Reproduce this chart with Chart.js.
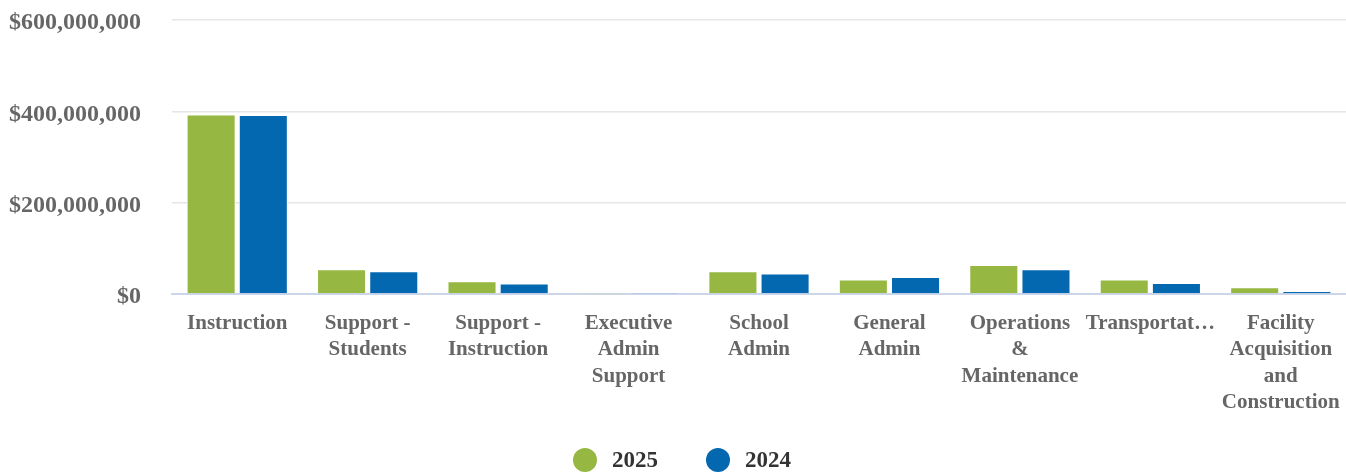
<!DOCTYPE html>
<html>
<head>
<meta charset="utf-8">
<script src="https://cdn.jsdelivr.net/npm/chart.js@4/dist/chart.umd.min.js"></script>
<style>
  html, body { margin: 0; padding: 0; background: #ffffff; }
  #wrap { width: 1346px; height: 472px; position: relative; }
</style>
</head>
<body>
<div id="wrap"><canvas id="chart"></canvas></div>
<script>
// Expenditure by function, two fiscal years
const categories = [
  'Instruction',
  ['Support -', 'Students'],
  ['Support -', 'Instruction'],
  ['Executive', 'Admin', 'Support'],
  ['School', 'Admin'],
  ['General', 'Admin'],
  ['Operations', '&', 'Maintenance'],
  'Transportat…',
  ['Facility', 'Acquisition', 'and', 'Construction']
];
const seriesNames = ['2025', '2024'];
const values2025 = [393000000, 54000000, 28000000, 400000, 50000000, 32000000, 63500000, 32000000, 14700000];
const values2024 = [392000000, 50000000, 23000000, 300000, 45000000, 37000000, 54000000, 24000000, 6500000];
const yTicks = [0, 200000000, 400000000, 600000000];

const GREEN = '#96b741';
const BLUE = '#0468b0';
const FONT = "'Liberation Serif', 'Times New Roman', serif";

const fmtMoney = v => '$' + Math.round(v).toLocaleString('en-US');

// Legend drawn below the axis labels: round markers followed by the series names
const LEGEND = { y: 460, radius: 12, gap: 15, itemGap: 48, shift: 9, font: 'bold 23px ' + FONT, color: '#333333' };
const circleLegend = {
  id: 'circleLegend',
  afterDraw(chart) {
    const ctx = chart.ctx;
    ctx.save();
    ctx.font = LEGEND.font;
    const items = chart.data.datasets.map(ds => ({
      label: ds.label, color: ds.backgroundColor, w: ctx.measureText(ds.label).width
    }));
    const total = items.reduce((s, it) => s + LEGEND.radius * 2 + LEGEND.gap + it.w, 0) + LEGEND.itemGap * (items.length - 1);
    let x = chart.width / 2 - total / 2 + LEGEND.shift;
    ctx.textBaseline = 'middle';
    ctx.textAlign = 'left';
    items.forEach(it => {
      ctx.beginPath();
      ctx.arc(x + LEGEND.radius, LEGEND.y, LEGEND.radius, 0, Math.PI * 2);
      ctx.fillStyle = it.color;
      ctx.fill();
      x += LEGEND.radius * 2 + LEGEND.gap;
      ctx.fillStyle = LEGEND.color;
      ctx.fillText(it.label, x, LEGEND.y + 1);
      x += it.w + LEGEND.itemGap;
    });
    ctx.restore();
  }
};

new Chart(document.getElementById('chart'), {
  type: 'bar',
  data: {
    labels: categories,
    datasets: [
      { label: seriesNames[0], data: values2025, backgroundColor: GREEN, borderColor: '#ffffff', borderWidth: 1 },
      { label: seriesNames[1], data: values2024, backgroundColor: BLUE, borderColor: '#ffffff', borderWidth: 1 }
    ]
  },
  plugins: [circleLegend],
  options: {
    responsive: true,
    maintainAspectRatio: false,
    animation: false,
    layout: { padding: { top: 20, right: 0, left: 0, bottom: 0 } },
    datasets: { bar: { categoryPercentage: 0.8, barPercentage: 0.94 } },
    scales: {
      x: {
        grid: { display: false, drawTicks: false },
        border: { display: true, color: '#ccd6eb', width: 2 },
        ticks: {
          color: '#666666',
          font: { family: FONT, size: 21, weight: 'bold', lineHeight: 1.26 },
          padding: 16,
          maxRotation: 0,
          minRotation: 0,
          autoSkip: false
        },
        afterFit: s => { s.height = 178; s.paddingLeft = 0; s.paddingRight = 0; }
      },
      y: {
        min: 0,
        max: 600000000,
        afterBuildTicks: s => { s.ticks = yTicks.map(v => ({ value: v })); },
        grid: { color: '#e6e6e6', lineWidth: 1.5, drawTicks: false },
        border: { display: false },
        ticks: {
          color: '#666666',
          font: { family: FONT, size: 24, weight: 'bold' },
          padding: 31,
          labelOffset: 3,
          callback: v => fmtMoney(v)
        },
        afterFit: s => { s.width = 172; s.paddingTop = 0; s.paddingBottom = 0; }
      }
    },
    plugins: {
      tooltip: { enabled: false },
      legend: { display: false }
    }
  }
});
</script>
</body>
</html>
